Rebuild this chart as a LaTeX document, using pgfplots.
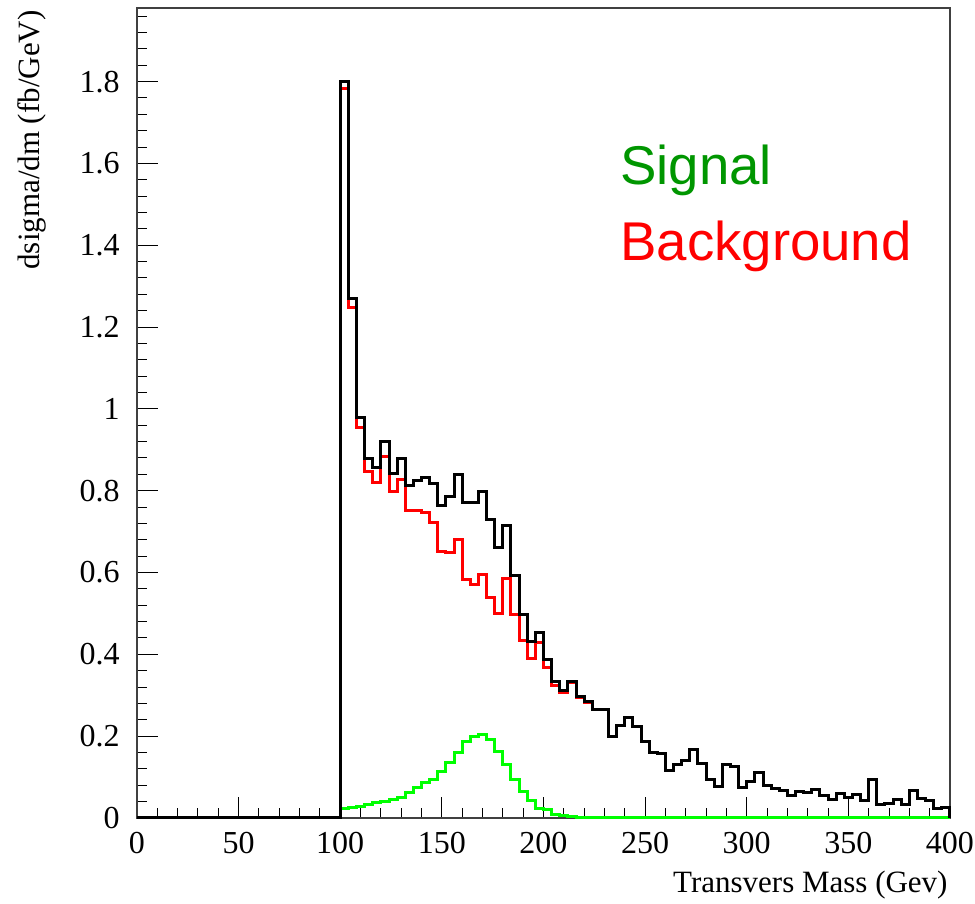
\documentclass[border=0pt]{standalone}
\usepackage{pgfplots}
\pgfplotsset{compat=1.18}
\usepackage{fontspec}
\setmainfont{Liberation Serif}
\newfontfamily\helv{Liberation Sans}
\definecolor{sig}{RGB}{0,150,0}
\definecolor{hgreen}{RGB}{0,255,0}
\definecolor{hred}{RGB}{255,0,0}
\begin{document}
\begin{tikzpicture}
\useasboundingbox (-68.5pt,-43pt) rectangle (419pt,409pt);
\begin{axis}[
  at={(0,0)}, anchor=south west,
  scale only axis, width=406.5pt, height=405pt,
  xmin=0, xmax=400, ymin=0, ymax=1.98,
  clip=false,
  xtick={0,50,...,400}, minor xtick={10,20,...,390},
  ytick={0,0.2,...,1.8}, minor ytick={0.04,0.08,...,1.96},
  tick align=inside, xtick pos=bottom, ytick pos=left,
  major tick length=10.5pt, minor tick length=5pt,
  every tick/.style={black, line width=0.5pt},
  axis line style={black!75, line width=0.6pt},
  /pgf/number format/assume math mode=true,
  ticklabel style={font=\fontsize{16}{19}\selectfont},
  xticklabel style={anchor=north, inner sep=0pt, yshift=-7pt},
  yticklabel style={anchor=east, inner sep=0pt, xshift=-8.5pt},
  xlabel={Transvers Mass (Gev)},
  ylabel={dsigma/dm (fb/GeV)},
  label style={font=\fontsize{15.5}{18}\selectfont},
  xlabel style={at={([xshift=-1pt,yshift=-37.5pt]axis description cs:1,0)}, anchor=base east, inner sep=0pt},
  ylabel style={at={([xshift=-48.5pt,yshift=-1pt]axis description cs:0,1)}, anchor=base east, inner sep=0pt},
]
\addplot[const plot, hgreen, line width=1.5pt] coordinates {
(0,0) (100,0.022) (104,0.025) (108,0.027) (112,0.033) (116,0.038) (120,0.040) (124,0.046) (128,0.051) (132,0.062) (136,0.074) (140,0.086) (144,0.094) (148,0.114) (152,0.136) (156,0.160) (160,0.186) (164,0.199) (168,0.203) (172,0.192) (176,0.162) (180,0.131) (184,0.094) (188,0.064) (192,0.042) (196,0.024) (200,0.020) (204,0.008) (208,0.005) (212,0.003) (216,0.002) (220,0.001) (224,0) (400,0)};
\addplot[const plot, hred, line width=1.5pt] coordinates {
(0,0) (100,1.783) (104,1.248) (108,0.955) (112,0.848) (116,0.821) (120,0.884) (124,0.797) (128,0.828) (132,0.752) (136,0.751) (140,0.747) (144,0.723) (148,0.651) (152,0.650) (156,0.681) (160,0.584) (164,0.571) (168,0.596) (172,0.538) (176,0.500) (180,0.585) (184,0.498) (188,0.434) (192,0.390) (196,0.430) (200,0.368) (204,0.325) (208,0.307) (212,0.330) (216,0.294) (220,0.283) (224,0.264) (228,0.264) (232,0.199) (236,0.227) (240,0.246) (244,0.223) (248,0.186) (252,0.159) (256,0.158) (260,0.117) (264,0.131) (268,0.140) (272,0.168) (276,0.132) (280,0.095) (284,0.078) (288,0.130) (292,0.127) (296,0.075) (300,0.088) (304,0.110) (308,0.080) (312,0.073) (316,0.066) (320,0.054) (324,0.064) (328,0.063) (332,0.070) (336,0.056) (340,0.046) (344,0.061) (348,0.050) (352,0.058) (356,0.042) (360,0.093) (364,0.032) (368,0.036) (372,0.046) (376,0.032) (380,0.066) (384,0.047) (388,0.042) (392,0.024) (396,0.025) (400,0)};
\addplot[const plot, black, line width=1.5pt] coordinates {
(0,0) (100,1.800) (104,1.270) (108,0.980) (112,0.879) (116,0.857) (120,0.921) (124,0.843) (128,0.879) (132,0.813) (136,0.825) (140,0.833) (144,0.817) (148,0.765) (152,0.787) (156,0.840) (160,0.770) (164,0.770) (168,0.799) (172,0.730) (176,0.662) (180,0.716) (184,0.592) (188,0.498) (192,0.432) (196,0.454) (200,0.388) (204,0.333) (208,0.312) (212,0.333) (216,0.296) (220,0.284) (224,0.264) (228,0.264) (232,0.199) (236,0.227) (240,0.246) (244,0.223) (248,0.186) (252,0.159) (256,0.158) (260,0.117) (264,0.131) (268,0.140) (272,0.168) (276,0.132) (280,0.095) (284,0.078) (288,0.130) (292,0.127) (296,0.075) (300,0.088) (304,0.110) (308,0.080) (312,0.073) (316,0.066) (320,0.054) (324,0.064) (328,0.063) (332,0.070) (336,0.056) (340,0.046) (344,0.061) (348,0.050) (352,0.058) (356,0.042) (360,0.093) (364,0.032) (368,0.036) (372,0.046) (376,0.032) (380,0.066) (384,0.047) (388,0.042) (392,0.024) (396,0.025) (400,0)};
\node[anchor=base west, inner sep=0pt, font=\helv\fontsize{27.3}{30}\selectfont, text=sig] at (axis cs:237.6,1.549) {Signal};
\node[anchor=base west, inner sep=0pt, font=\helv\fontsize{27.3}{30}\selectfont, text=hred] at (axis cs:237.6,1.363) {Background};
\end{axis}
\end{tikzpicture}
\end{document}
